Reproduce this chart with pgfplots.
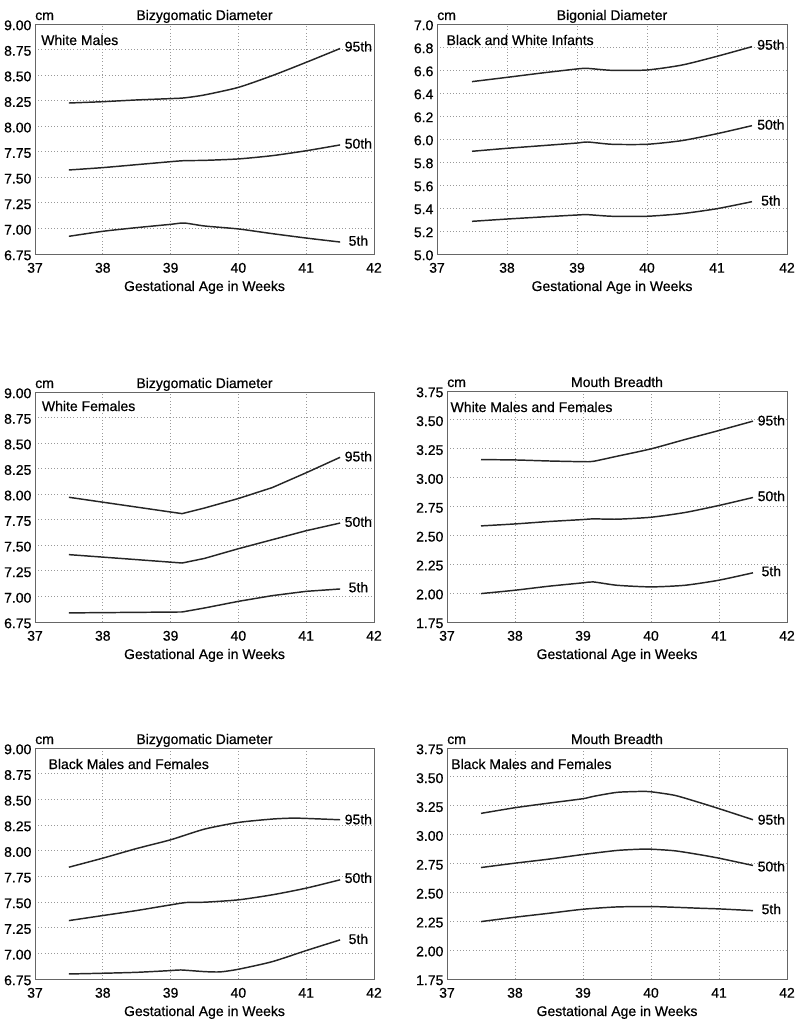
\documentclass[border=0pt]{standalone}
\usepackage{fontspec}
\setmainfont{Liberation Sans}[FakeBold=0.5]
\usepackage{pgfplots}
\pgfplotsset{compat=1.18}
\tikzset{
  lab/.style={font=\fontsize{10.5}{12}\selectfont, inner sep=0pt},
  pl/.style={black!85, line width=1.1pt, smooth, tension=0.4},
  ps/.style={black!85, line width=1.1pt, sharp plot},
}
\pgfplotsset{
  panel/.style={
    scale only axis,
    anchor=south west,
    xmin=37, xmax=42, xtick={37,38,39,40,41,42},
    grid=major,
    major grid style={dotted, black!40, line width=0.6pt},
    axis line style={black!60, line width=0.6pt},
    major tick length=0pt,
    clip=false,
    font=\fontsize{10.5}{12}\selectfont,
    /pgf/number format/assume math mode=true,
    xticklabel style={anchor=base, yshift=-14pt, inner sep=0pt},
    yticklabel style={/pgf/number format/fixed, /pgf/number format/fixed zerofill, /pgf/number format/precision=2, inner sep=2.5pt, yshift=-1pt},
    xlabel={Gestational Age in Weeks},
    xlabel style={at={(axis description cs:0.5,0)}, anchor=base, yshift=-27.75pt, inner sep=0pt},
    title style={at={(axis description cs:0.5,1)}, anchor=base, yshift=-3pt, inner sep=0pt},
  },
}
\begin{document}
\begin{tikzpicture}
\useasboundingbox (0,0) rectangle (600pt,766.5pt);
% Panel 1
\begin{axis}[panel, at={(26.25pt,576pt)}, width=254.25pt, height=172.5pt,
  ymin=6.75, ymax=9.0, ytick={6.75,7.00,7.25,7.50,7.75,8.00,8.25,8.50,8.75,9.00},
  title={Bizygomatic Diameter}]
\addplot[pl] coordinates {(37.5,8.227)(38,8.24)(38.5,8.257)(39,8.27)(39.2,8.277)(39.5,8.306)(40,8.38)(40.5,8.495)(41,8.625)(41.5,8.76)};
\addplot[pl] coordinates {(37.5,7.572)(38,7.595)(38.5,7.624)(39,7.653)(39.2,7.663)(39.5,7.666)(40,7.68)(40.5,7.712)(41,7.76)(41.5,7.817)};
\addplot[pl] coordinates {(37.5,6.923)(38,6.972)(38.5,7.008)(39,7.04)(39.2,7.053)(39.5,7.024)(40,6.995)(40.5,6.949)(41,6.906)(41.5,6.867)};
\node[lab] at (axis cs:41.77,8.78) {95th};
\node[lab] at (axis cs:41.77,7.83) {50th};
\node[lab] at (axis cs:41.77,6.88) {5th};
\node[lab, anchor=base west] at (rel axis cs:0,1) [yshift=3pt] {cm};
\node[lab, anchor=west] at (rel axis cs:0,1) [xshift=4.5pt, yshift=-12pt] {White Males};
\end{axis}
% Panel 2
\begin{axis}[panel, at={(327.75pt,576pt)}, width=262.5pt, height=172.5pt,
  ymin=5.0, ymax=7.0, ytick={5.0,5.2,5.4,5.6,5.8,6.0,6.2,6.4,6.6,6.8,7.0},
  yticklabel style={/pgf/number format/precision=1},
  title={Bigonial Diameter}]
\addplot[pl] coordinates {(37.5,6.499)(38,6.536)(38.5,6.574)(39,6.609)(39.15,6.614)(39.5,6.597)(40,6.6)(40.5,6.643)(41,6.719)(41.5,6.803)};
\addplot[pl] coordinates {(37.5,5.893)(38,5.919)(38.5,5.942)(39,5.965)(39.15,5.974)(39.5,5.954)(40,5.954)(40.5,5.986)(41,6.046)(41.5,6.116)};
\addplot[pl] coordinates {(37.5,5.284)(38,5.304)(38.5,5.322)(39,5.339)(39.15,5.342)(39.5,5.328)(40,5.328)(40.5,5.351)(41,5.394)(41.5,5.455)};
\node[lab] at (axis cs:41.77,6.82) {95th};
\node[lab] at (axis cs:41.77,6.125) {50th};
\node[lab] at (axis cs:41.77,5.465) {5th};
\node[lab, anchor=base west] at (rel axis cs:0,1) [yshift=3pt] {cm};
\node[lab, anchor=west] at (rel axis cs:0,1) [xshift=7pt, yshift=-12pt] {Black and White Infants};
\end{axis}
% Panel 3
\begin{axis}[panel, at={(26.25pt,300pt)}, width=254.25pt, height=172.5pt,
  ymin=6.75, ymax=9.0, ytick={6.75,7.00,7.25,7.50,7.75,8.00,8.25,8.50,8.75,9.00},
  title={Bizygomatic Diameter}]
\addplot[ps] coordinates {(37.5,7.97)(38,7.922)(38.5,7.874)(39,7.826)(39.17,7.81)(39.5,7.865)(40,7.958)(40.5,8.065)(41,8.21)(41.5,8.361)};
\addplot[ps] coordinates {(37.5,7.409)(38.3,7.37)(39.17,7.327)(39.5,7.372)(40,7.467)(40.5,7.555)(41,7.643)(41.5,7.718)};
\addplot[ps] coordinates {(37.5,6.839)(39.17,6.848)(39.5,6.887)(40,6.952)(40.5,7.008)(41,7.05)(41.5,7.073)};
\node[lab] at (axis cs:41.77,8.37) {95th};
\node[lab] at (axis cs:41.77,7.73) {50th};
\node[lab] at (axis cs:41.77,7.09) {5th};
\node[lab, anchor=base west] at (rel axis cs:0,1) [yshift=3pt] {cm};
\node[lab, anchor=west] at (rel axis cs:0,1) [xshift=5pt, yshift=-10.5pt] {White Females};
\end{axis}
% Panel 4
\begin{axis}[panel, at={(335.25pt,300pt)}, width=255pt, height=173.25pt,
  ymin=1.75, ymax=3.75, ytick={1.75,2.00,2.25,2.50,2.75,3.00,3.25,3.50,3.75},
  title={Mouth Breadth}]
\addplot[pl] coordinates {(37.5,3.156)(38,3.153)(38.5,3.144)(39,3.138)(39.15,3.141)(39.5,3.185)(40,3.249)(40.5,3.33)(41,3.408)(41.5,3.489)};
\addplot[pl] coordinates {(37.5,2.582)(38,2.599)(38.5,2.62)(39,2.637)(39.15,2.643)(39.5,2.64)(40,2.657)(40.5,2.698)(41,2.759)(41.5,2.828)};
\addplot[pl] coordinates {(37.5,1.996)(38,2.025)(38.5,2.06)(39,2.089)(39.15,2.097)(39.5,2.068)(40,2.054)(40.5,2.068)(41,2.112)(41.5,2.176)};
\node[lab] at (axis cs:41.77,3.495) {95th};
\node[lab] at (axis cs:41.77,2.84) {50th};
\node[lab] at (axis cs:41.77,2.19) {5th};
\node[lab, anchor=base west] at (rel axis cs:0,1) [yshift=3pt] {cm};
\node[lab, anchor=west] at (rel axis cs:0,1) [xshift=2.5pt, yshift=-12pt] {White Males and Females};
\end{axis}
% Panel 5
\begin{axis}[panel, at={(26.25pt,32.25pt)}, width=254.25pt, height=173.25pt,
  ymin=6.75, ymax=9.0, ytick={6.75,7.00,7.25,7.50,7.75,8.00,8.25,8.50,8.75,9.00},
  title={Bizygomatic Diameter}]
\addplot[pl] coordinates {(37.5,7.839)(38,7.927)(38.5,8.021)(39,8.106)(39.5,8.21)(40,8.275)(40.5,8.308)(40.8,8.317)(41,8.314)(41.5,8.301)};
\addplot[pl] coordinates {(37.5,7.319)(38,7.368)(38.5,7.417)(39,7.472)(39.23,7.495)(39.5,7.498)(40,7.521)(40.5,7.57)(41,7.635)(41.5,7.716)};
\addplot[pl] coordinates {(37.5,6.799)(38,6.806)(38.5,6.815)(39,6.832)(39.15,6.838)(39.5,6.822)(39.73,6.819)(40,6.845)(40.5,6.919)(41,7.027)(41.5,7.131)};
\node[lab] at (axis cs:41.77,8.305) {95th};
\node[lab] at (axis cs:41.77,7.735) {50th};
\node[lab] at (axis cs:41.77,7.14) {5th};
\node[lab, anchor=base west] at (rel axis cs:0,1) [yshift=3pt] {cm};
\node[lab, anchor=west] at (rel axis cs:0,1) [xshift=10pt, yshift=-12pt] {Black Males and Females};
\end{axis}
% Panel 6
\begin{axis}[panel, at={(335.25pt,32.25pt)}, width=255pt, height=173.25pt,
  ymin=1.75, ymax=3.75, ytick={1.75,2.00,2.25,2.50,2.75,3.00,3.25,3.50,3.75},
  title={Mouth Breadth}]
\addplot[pl] coordinates {(37.5,3.184)(38,3.233)(38.5,3.273)(39,3.311)(39.15,3.331)(39.5,3.366)(39.85,3.374)(40,3.371)(40.35,3.34)(40.7,3.28)(41,3.225)(41.5,3.129)};
\addplot[pl] coordinates {(37.5,2.715)(38,2.753)(38.5,2.788)(39,2.828)(39.5,2.863)(39.85,2.874)(40,2.874)(40.35,2.86)(40.7,2.828)(41,2.796)(41.5,2.733)};
\addplot[pl] coordinates {(37.5,2.247)(38,2.285)(38.5,2.319)(39,2.354)(39.5,2.374)(40,2.377)(40.35,2.371)(40.7,2.363)(41,2.357)(41.5,2.342)};
\node[lab] at (axis cs:41.77,3.13) {95th};
\node[lab] at (axis cs:41.77,2.725) {50th};
\node[lab] at (axis cs:41.77,2.355) {5th};
\node[lab, anchor=base west] at (rel axis cs:0,1) [yshift=3pt] {cm};
\node[lab, anchor=west] at (rel axis cs:0,1) [xshift=3pt, yshift=-12pt] {Black Males and Females};
\end{axis}
\end{tikzpicture}
\end{document}
